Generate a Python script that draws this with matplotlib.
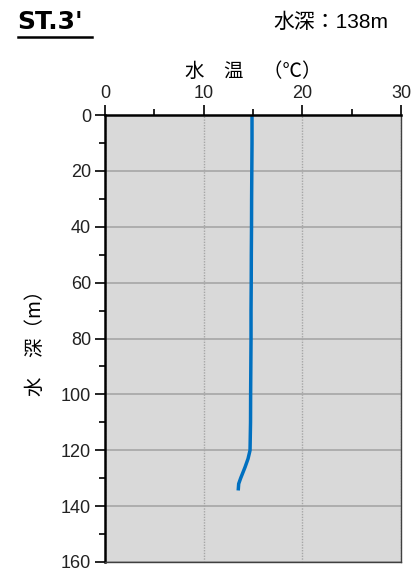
import matplotlib
matplotlib.use('Agg')
from matplotlib import pyplot as plt
from matplotlib.ticker import MultipleLocator

plt.rcParams['font.family'] = ['Liberation Sans', 'Noto Sans CJK JP', 'DejaVu Sans']

STATION = "ST.3'"
DEPTH_TEXT = '水深：138m'
XLABEL = '水　温　（℃）'
YLABEL = '水　深（m）'

depth = [0, 10, 20, 30, 40, 50, 60, 70, 80, 90, 100, 110, 120, 123, 126, 130, 132, 134.4]
temp = [14.9, 14.9, 14.88, 14.86, 14.85, 14.83, 14.82, 14.8, 14.8, 14.78, 14.76, 14.75, 14.7,
        14.5, 14.2, 13.75, 13.55, 13.5]

x_ticks = [0, 10, 20, 30]
y_ticks = [0, 20, 40, 60, 80, 100, 120, 140, 160]

fig = plt.figure(figsize=(4.13, 5.77), dpi=100)
ax = fig.add_axes([105 / 413, 1 - 562 / 577, 296 / 413, 447 / 577])
ax.set_facecolor('#d9d9d9')

ax.plot(temp, depth, color='#0070c0', linewidth=2.5, solid_capstyle='butt')

ax.set_xlim(0, 30)
ax.set_ylim(160, 0)
ax.xaxis.tick_top()
ax.xaxis.set_label_position('top')
ax.set_xticks(x_ticks)
ax.set_yticks(y_ticks)
ax.xaxis.set_minor_locator(MultipleLocator(5))
ax.yaxis.set_minor_locator(MultipleLocator(10))
ax.tick_params(which='both', direction='out', color='black', width=1.2,
               labelsize=13, labelcolor='#222222')
ax.tick_params(which='major', length=7)
ax.tick_params(which='minor', length=4)
ax.tick_params(axis='x', pad=2)
ax.tick_params(axis='y', pad=3)

ax.grid(axis='y', which='major', color='#a6a6a6', linewidth=1.2, linestyle='-')
ax.grid(axis='x', which='major', color='#a6a6a6', linewidth=1.0, linestyle=(0, (1, 1)))
ax.set_axisbelow(True)

ax.spines['left'].set_linewidth(1.8)
ax.spines['top'].set_linewidth(1.8)
ax.spines['right'].set_linewidth(1.0)
ax.spines['right'].set_color('#404040')
ax.spines['bottom'].set_linewidth(1.0)
ax.spines['bottom'].set_color('#404040')

ax.set_xlabel(XLABEL, fontsize=14, labelpad=6, family=['Noto Sans CJK JP'])
ax.set_ylabel(YLABEL, fontsize=14, labelpad=11, family=['Noto Sans CJK JP'])

fig.text(17 / 413, 1 - 22 / 577, STATION, fontsize=18, fontweight='bold',
         va='center', ha='left', family=['DejaVu Sans'])
fig.add_artist(plt.Line2D([18 / 413, 92 / 413], [1 - 37 / 577, 1 - 37 / 577],
                          color='black', linewidth=1.8))
fig.text(388 / 413, 1 - 22 / 577, DEPTH_TEXT, fontsize=15, va='center', ha='right')

plt.savefig('out.png', dpi=100)
